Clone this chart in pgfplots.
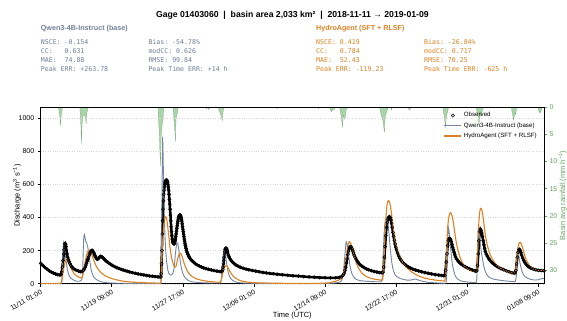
\documentclass[border=0pt]{standalone}
\usepackage{fontspec}
\setmainfont{Liberation Sans}
\newfontfamily\mono{DejaVu Sans Mono}
\usepackage{pgfplots}
\pgfplotsset{compat=1.18}
\definecolor{qwen}{HTML}{7586A0}
\definecolor{qwentext}{HTML}{6F7F97}
\definecolor{hydro}{HTML}{DD8222}
\definecolor{rain}{HTML}{84C184}
\definecolor{raintext}{HTML}{5FA55F}
\begin{document}
\begin{tikzpicture}
\useasboundingbox (0,0) rectangle (567bp,321bp);
% ---------- rainfall (right axis, reversed) ----------
\begin{axis}[at={(40.7bp,37.3bp)}, anchor=south west, scale only axis,
  width=503.3bp, height=176.4bp,
  xmin=0, xmax=1416, ymin=0, ymax=32.5, y dir=reverse,
  axis x line=none, axis y line*=right,
  ytick={0,5,...,30}, tick align=outside, major tick length=3bp,
  y axis line style={black, line width=0.6bp},
  ytick style={raintext, line width=0.6bp},
  yticklabel style={text=raintext, font=\fontsize{7}{8}\selectfont, xshift=-1bp},
  /pgf/number format/assume math mode=true,
  ylabel={Basin avg rainfall (mm h\textsuperscript{−1})},
  ylabel style={text=raintext, font=\fontsize{7.5}{8}\selectfont, at={(axis description cs:1.0368,0.5)}, anchor=center},
]
\addplot[draw=rain!85!black, line width=0.2bp, fill=rain, fill opacity=0.7] coordinates {
(0,0)(50,0)(52,1.0)(54,1.8)(56,3.4)(57,2.0)(58,1.5)(60,0.5)(62,0)
(110,0)(112,2.0)(114,4.5)(115,6.8)(116,3.5)(118,2.0)(120,1.5)(122,1.2)(124,1.5)(126,2.0)(128,3.1)(130,1.0)(132,0.5)(134,0)
(330,0)(331,2)(333,4)(335,7.5)(336,9)(337,10.9)(338,8)(339,5)(340,4.5)(342,3)(344,2.5)(345,1.2)(347,0)
(372,0)(374,1.5)(376,3)(378,5)(379,6.3)(380,3.5)(381,2)(383,1.4)(385,1.0)(387,0)
(465,0)(467,0.3)(469,0)(470,0)(472,0.4)(474,0.3)(476,0)
(500,0)(502,0.8)(505,1.0)(507,1.5)(509,2.0)(511,2.5)(512,1.2)(514,0.6)(516,0)
(664,0)(665,0.3)(667,0)(780,0)(781,0.3)(783,0)
(813,0)(815,0.5)(818,0.8)(820,0.6)(823,0.5)(826,0.3)(828,0)
(841,0)(843,0.8)(845,1.5)(847,2.5)(849,3.75)(850,2.5)(852,1.5)(854,1.8)(856,2.3)(858,1.0)(860,0.4)(862,0)
(953,0)(955,0.5)(958,1.5)(961,2.0)(963,2.5)(965,3.5)(967,4.6)(968,3)(970,1.5)(972,1.2)(974,0.8)(976,0.3)(978,0)
(985,0)(987,0.5)(989,0)(1033,0)(1036,0.4)(1039,0.5)(1041,0)
(1131,0)(1133,0.8)(1135,1.5)(1137,2.5)(1139,3.8)(1140,2.5)(1142,1.5)(1144,1.0)(1146,0.5)(1148,0)
(1225,0)(1227,0.6)(1229,1.2)(1231,2.0)(1233,3.0)(1235,2.0)(1237,1.2)(1239,1.6)(1241,1.0)(1243,0.5)(1245,0)
(1324,0)(1326,0.8)(1328,1.5)(1330,2.3)(1332,1.8)(1334,1.0)(1336,1.4)(1338,0.6)(1340,0)
(1399,0)(1401,0.6)(1403,1.0)(1405,0.7)(1407,1.0)(1409,0.3)(1411,0)(1416,0)
} \closedcycle;
\end{axis}
% ---------- discharge (left axis) ----------
\pgfplotstableread{
h q
0 123
6 110
12 98
18 88
24 78
30 70
36 64
42 59
48 55
54 52
57 55
59 70
61 100
63 140
65 180
66 205
67 225
68 240
69 243
70 238
71 225
72 205
74 180
76 160
78 145
80 133
82 122
85 110
88 100
92 92
97 85
102 80
107 76
112 73
116 74
119 78
121 83
123 90
125 100
127 112
129 125
131 138
133 150
135 162
137 175
139 186
141 195
143 200
145 201
147 196
149 188
151 178
153 168
155 160
157 152
159 148
161 150
163 155
165 160
167 163
169 165
172 163
175 157
178 150
181 143
184 137
188 130
192 124
197 117
202 110
208 103
214 97
220 92
226 87
232 83
238 79
244 75
250 71
258 67
266 63
274 59
282 56
290 53
298 50
306 47
314 45
322 43
330 41
336 40
338 42
339 60
340 120
341 200
342 300
343 380
344 450
345 500
346 540
347 565
348 585
349 600
350 610
351 618
352 623
353 625
354 627
355 624
356 618
357 610
358 598
359 585
360 565
361 540
362 510
363 480
364 450
365 415
366 380
367 345
368 315
369 290
370 270
371 258
372 250
373 245
374 242
375 241
376 243
377 248
378 258
379 270
380 285
381 300
382 318
383 335
384 350
385 365
386 378
387 390
388 400
389 407
390 412
391 415
392 415
393 413
394 408
395 400
396 390
397 378
398 362
399 345
400 330
401 315
402 300
403 285
404 270
405 256
406 243
407 232
408 222
409 212
410 203
412 190
414 178
416 168
418 160
420 153
423 145
426 138
430 130
435 121
440 114
446 107
452 101
458 96
465 91
472 87
480 83
488 79
496 76
504 73
508 72
510 75
512 85
513 100
514 120
515 140
516 160
517 178
518 193
519 205
520 212
521 215
522 214
523 210
524 203
525 195
526 186
528 172
530 162
533 150
536 140
540 130
545 120
550 112
556 105
562 99
570 93
578 88
586 84
595 80
605 76
615 72
625 68
635 65
645 62
655 60
665 57
680 54
695 51
710 48
725 46
740 43
755 41
770 39
785 37
800 36
815 35
830 36
840 38
846 42
850 50
853 60
856 80
858 100
860 125
862 150
864 175
866 198
868 215
870 222
872 224
874 220
876 210
878 198
880 185
882 172
885 158
888 145
892 132
896 120
900 112
905 104
910 97
916 90
922 85
930 79
938 74
946 70
954 67
960 66
963 70
965 100
967 160
969 225
971 290
973 340
975 370
977 390
979 400
981 405
983 400
985 385
987 365
989 340
991 310
993 285
995 262
997 240
999 220
1001 205
1004 185
1007 168
1010 155
1014 142
1018 130
1023 120
1028 111
1034 102
1040 95
1047 88
1055 82
1063 77
1072 72
1081 67
1090 63
1100 59
1110 55
1120 52
1128 50
1134 48
1137 50
1139 80
1141 130
1143 180
1145 230
1147 260
1149 272
1151 274
1153 268
1155 255
1157 238
1159 220
1161 205
1163 190
1165 175
1167 162
1170 150
1174 138
1178 128
1183 118
1188 110
1194 103
1200 96
1207 89
1214 83
1220 79
1224 76
1227 78
1229 110
1231 180
1233 260
1235 315
1237 329
1239 322
1241 305
1243 284
1245 260
1247 235
1249 212
1251 195
1254 178
1257 165
1261 150
1265 138
1270 127
1276 115
1282 106
1288 98
1295 91
1302 85
1310 78
1318 72
1326 66
1332 64
1335 66
1337 80
1339 120
1341 160
1343 190
1345 205
1347 208
1349 200
1351 188
1353 173
1356 155
1359 140
1362 128
1366 116
1370 107
1375 99
1380 93
1386 88
1393 84
1400 81
1408 79
1416 78
}\obs
\begin{axis}[at={(40.7bp,37.3bp)}, anchor=south west, scale only axis,
  width=503.3bp, height=176.4bp,
  xmin=0, xmax=1416, ymin=0, ymax=1066,
  axis line style={line width=0.6bp},
  xtick={0,200,...,1400},
  xticklabels={11/11 01:00,11/19 09:00,11/27 17:00,12/06 01:00,12/14 09:00,12/22 17:00,12/31 01:00,01/08 09:00},
  ytick={0,200,...,1000},
  xtick pos=lower, ytick pos=left, tick align=outside, major tick length=3bp,
  tick style={line width=0.6bp, black},
  /pgf/number format/assume math mode=true,
  /pgf/number format/1000 sep={},
  yticklabel style={font=\fontsize{7}{8}\selectfont},
  xticklabel style={font=\fontsize{6.9}{8}\selectfont, rotate=30, anchor=north east, inner sep=1.5bp},
  ymajorgrids, major grid style={dotted, gray!30, line width=0.4bp},
  xlabel={Time (UTC)},
  xlabel style={font=\fontsize{7.5}{8}\selectfont, at={(axis description cs:0.5,-0.1786)}, anchor=center},
  ylabel={Discharge (m\textsuperscript{3} s\textsuperscript{−1})},
  ylabel style={font=\fontsize{7.5}{8}\selectfont, at={(axis description cs:-0.0467,0.5)}, anchor=center},
  legend style={at={(1,1)}, anchor=north east, xshift=-4bp, yshift=-2bp, draw=none, fill=none,
    font=\fontsize{6.2}{7}\selectfont, row sep=0.3bp, inner sep=1bp},
  legend cell align=left,
]
\addplot[black, line width=2.5bp, forget plot] table[x=h, y=q] {\obs};
\addplot[only marks, mark=o, mark size=1.6bp, mark options={line width=0.5bp, black}, forget plot] table[x=h, y=q] {\obs};
\addplot[color=qwen, line width=0.9bp, forget plot] coordinates {
(0,2)(50,2)(58,3)(60,20)(61,60)(62,130)(63,200)(64,245)(65,254)(66,245)(67,225)(68,200)(70,165)(72,130)(74,100)(76,78)(78,60)(81,45)(85,33)(90,25)(96,18)(102,15)(108,15)(112,17)(115,22)(117,40)(118,80)(119,150)(120,220)(121,270)(122,293)(123,298)(124,290)(125,275)(126,262)(127,255)(128,250)(129,245)(130,240)(132,225)(134,200)(136,170)(138,140)(140,110)(142,85)(144,68)(146,55)(149,42)(153,32)(158,23)(165,15)(175,9)(190,5)(210,3)(250,2)(300,1)(338,1)(339,30)(340,200)(341,450)(342,700)(343,889)(344,820)(345,700)(346,580)(347,480)(348,400)(349,330)(350,270)(352,190)(354,140)(356,105)(358,80)(360,65)(363,55)(366,52)(369,55)(372,65)(375,90)(377,130)(379,180)(381,220)(383,240)(385,245)(386,240)(388,215)(390,180)(392,145)(394,115)(396,92)(398,75)(400,62)(403,48)(406,38)(410,28)(415,20)(420,15)(430,10)(450,6)(480,4)(500,4)(506,5)(508,20)(510,70)(512,130)(514,175)(516,190)(517,194)(518,190)(520,170)(522,140)(524,110)(526,85)(528,65)(531,45)(535,30)(540,20)(546,12)(555,7)(570,4)(600,2)(700,1)(800,1)(820,3)(830,5)(838,8)(842,10)(846,18)(850,40)(853,100)(856,180)(858,230)(859,250)(860,254)(862,240)(864,210)(866,175)(868,140)(870,110)(873,80)(876,58)(880,42)(885,30)(890,24)(900,18)(920,14)(940,12)(958,12)(960,20)(962,80)(964,200)(966,300)(968,360)(970,385)(972,392)(974,389)(976,375)(978,345)(980,300)(982,250)(984,200)(986,160)(988,125)(990,100)(993,75)(997,55)(1002,42)(1010,33)(1020,26)(1030,22)(1040,22)(1045,24)(1050,27)(1053,28)(1058,26)(1065,20)(1075,14)(1090,8)(1110,5)(1130,3)(1140,3)(1142,30)(1144,150)(1146,300)(1147,339)(1148,330)(1150,300)(1152,250)(1154,200)(1156,160)(1158,120)(1160,95)(1163,70)(1166,50)(1170,35)(1175,25)(1185,15)(1200,10)(1215,7)(1225,6)(1227,30)(1229,150)(1231,335)(1232,330)(1234,300)(1236,260)(1238,220)(1240,185)(1243,150)(1246,110)(1250,80)(1255,55)(1262,38)(1270,30)(1280,25)(1295,20)(1310,16)(1325,13)(1335,12)(1338,40)(1340,150)(1342,194)(1344,180)(1346,155)(1348,130)(1351,100)(1354,75)(1358,55)(1363,42)(1370,33)(1378,26)(1390,22)(1400,24)(1408,30)(1416,32)
};
\addplot[color=hydro, line width=1.1bp, forget plot] coordinates {
(0,0)(55,0)(57,3)(59,15)(61,40)(63,70)(65,95)(67,115)(69,130)(71,140)(73,147)(75,145)(77,138)(79,128)(82,112)(85,96)(88,82)(92,68)(96,57)(100,49)(105,42)(110,37)(114,35)(117,38)(119,55)(121,80)(123,105)(125,130)(127,152)(129,172)(131,186)(133,196)(135,202)(137,204)(139,200)(141,192)(143,180)(145,168)(148,150)(151,132)(155,112)(160,92)(165,77)(170,66)(176,55)(183,46)(190,39)(200,31)(212,24)(225,18)(240,13)(260,9)(290,6)(320,4)(337,3)(338,5)(339,30)(340,100)(342,200)(344,290)(346,350)(348,385)(350,400)(352,405)(354,395)(356,370)(358,335)(360,295)(362,255)(364,215)(366,185)(368,160)(370,140)(372,125)(374,112)(376,104)(378,100)(380,102)(382,115)(384,135)(386,155)(388,170)(390,180)(392,184)(394,183)(396,175)(398,162)(400,148)(402,133)(405,115)(408,98)(411,83)(415,68)(420,55)(426,44)(433,35)(440,28)(450,22)(462,17)(475,13)(490,10)(500,9)(505,10)(508,20)(510,40)(512,62)(514,80)(516,95)(518,104)(520,108)(522,109)(524,106)(526,100)(529,88)(532,75)(536,62)(540,50)(545,39)(550,31)(558,22)(568,15)(580,10)(600,6)(650,3)(700,2)(780,2)(810,5)(830,15)(838,22)(845,30)(850,45)(854,80)(858,140)(862,200)(865,235)(867,250)(869,254)(871,250)(873,240)(876,220)(879,195)(882,168)(885,145)(888,125)(892,104)(897,84)(903,66)(910,52)(918,42)(928,33)(940,27)(955,22)(962,23)(964,60)(966,150)(968,260)(970,350)(972,420)(974,470)(976,495)(978,502)(980,500)(982,488)(984,468)(986,440)(988,405)(990,365)(992,330)(994,298)(996,270)(998,248)(1001,222)(1004,200)(1008,175)(1012,155)(1017,135)(1022,118)(1028,102)(1035,86)(1042,74)(1050,62)(1060,50)(1070,41)(1080,34)(1095,27)(1110,22)(1125,18)(1137,16)(1139,50)(1141,150)(1143,260)(1145,340)(1147,385)(1149,410)(1151,425)(1153,429)(1155,425)(1157,412)(1159,395)(1161,370)(1163,340)(1165,310)(1167,280)(1169,252)(1172,220)(1175,192)(1179,165)(1183,142)(1188,120)(1194,102)(1200,90)(1208,80)(1216,74)(1222,72)(1225,72)(1227,90)(1229,180)(1231,300)(1233,380)(1235,430)(1237,452)(1239,456)(1241,448)(1243,425)(1245,395)(1247,360)(1249,325)(1251,295)(1254,258)(1257,228)(1261,198)(1265,173)(1270,150)(1276,130)(1282,115)(1290,99)(1298,88)(1306,80)(1315,72)(1325,66)(1331,64)(1334,68)(1337,100)(1339,150)(1341,190)(1343,220)(1345,240)(1347,248)(1349,250)(1351,245)(1353,235)(1356,215)(1359,190)(1362,168)(1366,145)(1370,127)(1375,110)(1380,98)(1386,89)(1393,83)(1400,80)(1408,80)(1416,82)
};
\addlegendimage{only marks, mark=o, mark size=1.6bp, mark options={line width=0.5bp, draw=black}}
\addlegendentry{Observed}
\addlegendimage{no markers, draw=qwen, line width=0.9bp}
\addlegendentry{Qwen3-4B-Instruct (base)}
\addlegendimage{no markers, draw=hydro, line width=1.1bp}
\addlegendentry{HydroAgent (SFT + RLSF)}
\end{axis}
% ---------- title and metric blocks ----------
\node[font=\fontsize{8.7}{9}\selectfont\bfseries, anchor=center] at (292.4bp,305.3bp)
  {Gage 01403060\ \ |\ \ basin area 2,033 km²\ \ |\ \ 2018-11-11 → 2019-01-09};
\begin{scope}[every node/.style={anchor=west, inner sep=0pt}]
\node[font=\fontsize{7.2}{8}\selectfont\bfseries, text=qwentext] at (40.7bp,292bp) {Qwen3-4B-Instruct (base)};
\node[font=\fontsize{6.6}{7}\selectfont\mono, text=qwentext] at (40.7bp,278.7bp) {NSCE:~-0.154};
\node[font=\fontsize{6.6}{7}\selectfont\mono, text=qwentext] at (40.7bp,270bp) {CC:~~~0.631};
\node[font=\fontsize{6.6}{7}\selectfont\mono, text=qwentext] at (40.7bp,261bp) {MAE:~~74.88};
\node[font=\fontsize{6.6}{7}\selectfont\mono, text=qwentext] at (40.7bp,252.3bp) {Peak~ERR:~+263.78};
\node[font=\fontsize{6.6}{7}\selectfont\mono, text=qwentext] at (148.3bp,278.7bp) {Bias:~-54.78\%};
\node[font=\fontsize{6.6}{7}\selectfont\mono, text=qwentext] at (148.3bp,270bp) {modCC:~0.626};
\node[font=\fontsize{6.6}{7}\selectfont\mono, text=qwentext] at (148.3bp,261bp) {RMSE:~99.84};
\node[font=\fontsize{6.6}{7}\selectfont\mono, text=qwentext] at (148.3bp,252.3bp) {Peak~Time~ERR:~+14~h};
\node[font=\fontsize{7.2}{8}\selectfont\bfseries, text=hydro] at (316bp,292bp) {HydroAgent (SFT + RLSF)};
\node[font=\fontsize{6.6}{7}\selectfont\mono, text=hydro] at (316bp,278.7bp) {NSCE:~0.419};
\node[font=\fontsize{6.6}{7}\selectfont\mono, text=hydro] at (316bp,270bp) {CC:~~~0.784};
\node[font=\fontsize{6.6}{7}\selectfont\mono, text=hydro] at (316bp,261bp) {MAE:~~52.43};
\node[font=\fontsize{6.6}{7}\selectfont\mono, text=hydro] at (316bp,252.3bp) {Peak~ERR:~-119.23};
\node[font=\fontsize{6.6}{7}\selectfont\mono, text=hydro] at (424bp,278.7bp) {Bias:~-26.84\%};
\node[font=\fontsize{6.6}{7}\selectfont\mono, text=hydro] at (424bp,270bp) {modCC:~0.717};
\node[font=\fontsize{6.6}{7}\selectfont\mono, text=hydro] at (424bp,261bp) {RMSE:~70.25};
\node[font=\fontsize{6.6}{7}\selectfont\mono, text=hydro] at (424bp,252.3bp) {Peak~Time~ERR:~-625~h};
\end{scope}
\end{tikzpicture}
\end{document}
